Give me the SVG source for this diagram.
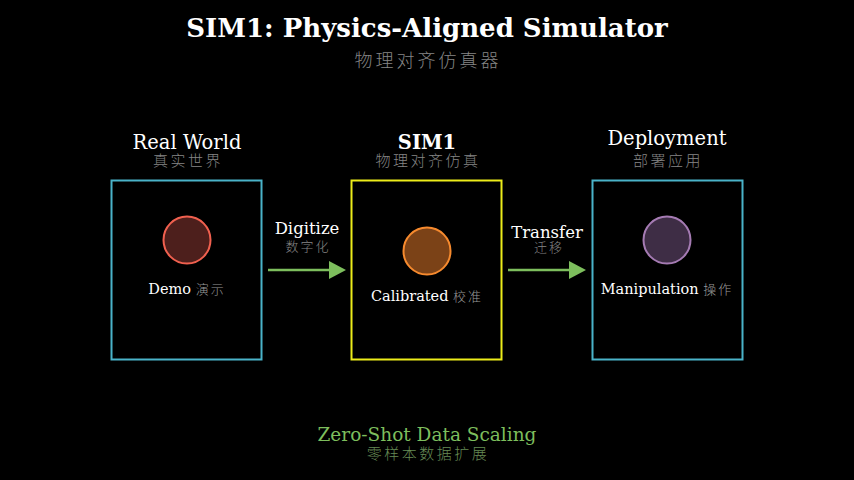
<svg xmlns="http://www.w3.org/2000/svg" width="854" height="480" viewBox="0 0 854 480">
<defs>
<style>
.en{font-family:"DejaVu Serif",serif;fill:#ffffff;text-anchor:middle}
.zh{font-family:"Noto Sans CJK SC","Noto Sans",sans-serif;fill:#858585;text-anchor:middle;font-weight:300}
.lbl{font-family:"DejaVu Serif",serif;fill:#ffffff;text-anchor:middle;font-size:14.5px}
.lbl .c{font-family:"Noto Sans CJK SC","Noto Sans",sans-serif;fill:#9a9a9a;font-size:13px;letter-spacing:2px;font-weight:300}
.box{fill:#000;stroke-width:2}
.conn{stroke:#7dbe5d;stroke-width:2.5;fill:none}
</style>
<marker id="ah" markerWidth="20" markerHeight="20" refX="0" refY="0" markerUnits="userSpaceOnUse" orient="auto" overflow="visible">
<path d="M0,-9 L17,0 L0,9 Z" fill="#7dbe5d"/>
</marker>
</defs>
<rect width="854" height="480" fill="#000"/>
<g id="title">
<text class="en" x="427" y="37" font-size="26" font-weight="bold">SIM1: Physics-Aligned Simulator</text>
<text class="zh" x="428" y="67" font-size="18" letter-spacing="3">物理对齐仿真器</text>
</g>
<g id="real-world">
<text class="en" x="187" y="149" font-size="19.5">Real World</text>
<text class="zh" x="188" y="166" font-size="15" letter-spacing="2.5">真实世界</text>
<rect class="box" x="111.5" y="180.5" width="150" height="179" stroke="#4ab3c9"/>
<circle cx="187" cy="240" r="23.5" fill="#4d1f1c" stroke="#f0604f" stroke-width="2"/>
<text class="lbl" x="187" y="294">Demo <tspan class="c">演示</tspan></text>
</g>
<g id="sim1">
<text class="en" x="427" y="149" font-size="19.5" font-weight="bold">SIM1</text>
<text class="zh" x="428" y="166" font-size="15" letter-spacing="2.5">物理对齐仿真</text>
<rect class="box" x="351.5" y="180.5" width="150" height="179" stroke="#ecec1a"/>
<circle cx="427" cy="251" r="23.5" fill="#7b4217" stroke="#f68a2e" stroke-width="2"/>
<text class="lbl" x="427" y="301">Calibrated <tspan class="c">校准</tspan></text>
</g>
<g id="deployment">
<text class="en" x="667" y="145" font-size="19.5">Deployment</text>
<text class="zh" x="668" y="166" font-size="15" letter-spacing="2.5">部署应用</text>
<rect class="box" x="592.5" y="180.5" width="150" height="179" stroke="#4ab3c9"/>
<circle cx="667" cy="240" r="23.5" fill="#3e2d45" stroke="#a57bb3" stroke-width="2"/>
<text class="lbl" x="667" y="294">Manipulation <tspan class="c">操作</tspan></text>
</g>
<g id="connectors">
<line class="conn" x1="268" y1="270" x2="329" y2="270" marker-end="url(#ah)"/>
<text class="en" x="307" y="234" font-size="16.5">Digitize</text>
<text class="zh" x="308" y="251" font-size="13" letter-spacing="2">数字化</text>
<line class="conn" x1="508" y1="270" x2="569" y2="270" marker-end="url(#ah)"/>
<text class="en" x="547" y="238" font-size="16.5">Transfer</text>
<text class="zh" x="549" y="252" font-size="13" letter-spacing="2">迁移</text>
</g>
<g id="footer">
<text class="en" x="427" y="441" font-size="18.5" style="fill:#7dbe5d">Zero-Shot Data Scaling</text>
<text class="zh" x="428" y="459" font-size="15" letter-spacing="2.5" style="fill:#668a55">零样本数据扩展</text>
</g>
</svg>
